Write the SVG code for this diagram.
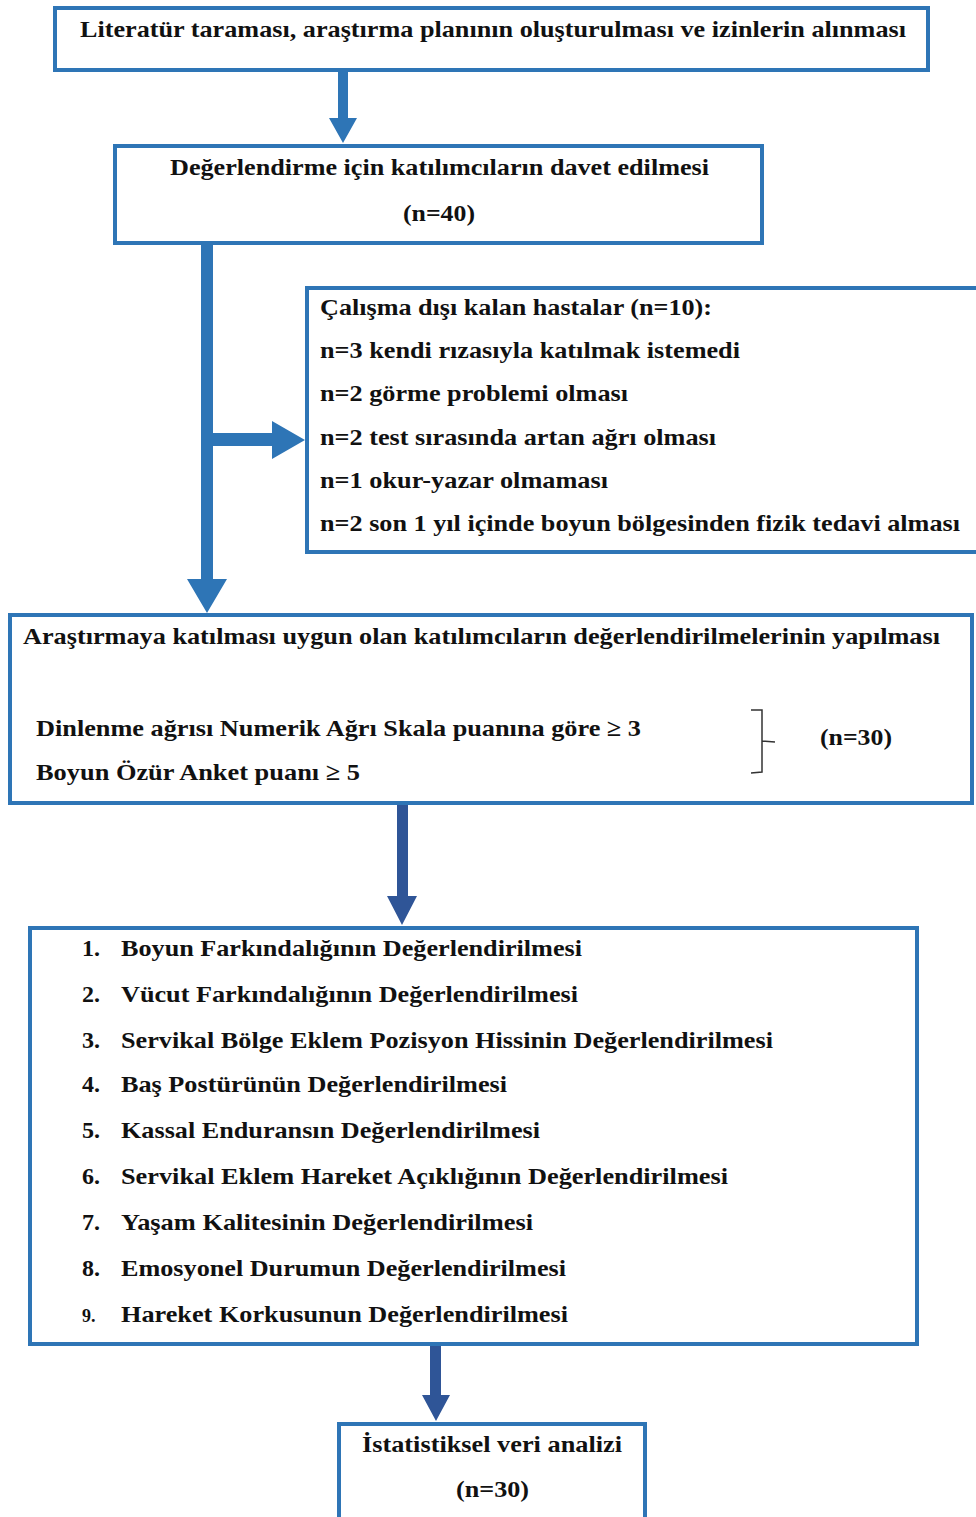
<svg xmlns="http://www.w3.org/2000/svg" width="976" height="1517" viewBox="0 0 976 1517">
<style>
.box{fill:#ffffff;stroke:#2E75B6;stroke-width:4}
.t{font-family:"Liberation Serif","Times New Roman",serif;font-weight:bold;font-size:24px;fill:#111}
.a1{fill:#2E75B6}
.a2{fill:#2F5597}
.brace{fill:none;stroke:#333;stroke-width:1.5}
</style>
<rect width="976" height="1517" fill="#ffffff"/>
<g id="connectors">
<polygon class="a1" points="338,70 348,70 348,118 357,118 343,143 329,118 338,118"/>
<polygon class="a1" points="201,243 213,243 213,579 227,579 207,613 187,579 201,579"/>
<polygon class="a1" points="213,433 272,433 272,421 305,440 272,459 272,446 213,446"/>
<polygon class="a2" points="397,803 408,803 408,896 417,896 402,925 387,896 397,896"/>
<polygon class="a2" points="430,1344 441,1344 441,1395 450,1395 436,1421 422,1395 430,1395"/>
</g>
<g id="node1">
<rect class="box" x="55" y="8" width="873" height="62"/>
<text class="t" x="80" y="37" textLength="826" lengthAdjust="spacingAndGlyphs">Literatür taraması, araştırma planının oluşturulması ve izinlerin alınması</text>
</g>
<g id="node2">
<rect class="box" x="115" y="146" width="647" height="97"/>
<text class="t" x="170" y="175" textLength="539" lengthAdjust="spacingAndGlyphs">Değerlendirme için katılımcıların davet edilmesi</text>
<text class="t" x="403" y="221" textLength="72" lengthAdjust="spacingAndGlyphs">(n=40)</text>
</g>
<g id="node3">
<rect class="box" x="307" y="288" width="680" height="264"/>
<text class="t" x="320" y="315" textLength="392" lengthAdjust="spacingAndGlyphs">Çalışma dışı kalan hastalar (n=10):</text>
<text class="t" x="320" y="358" textLength="420" lengthAdjust="spacingAndGlyphs">n=3 kendi rızasıyla katılmak istemedi</text>
<text class="t" x="320" y="401" textLength="308" lengthAdjust="spacingAndGlyphs">n=2 görme problemi olması</text>
<text class="t" x="320" y="445" textLength="396" lengthAdjust="spacingAndGlyphs">n=2 test sırasında artan ağrı olması</text>
<text class="t" x="320" y="488" textLength="288" lengthAdjust="spacingAndGlyphs">n=1 okur-yazar olmaması</text>
<text class="t" x="320" y="531" textLength="640" lengthAdjust="spacingAndGlyphs">n=2 son 1 yıl içinde boyun bölgesinden fizik tedavi alması</text>
</g>
<g id="node4">
<rect class="box" x="10" y="615" width="962" height="188"/>
<text class="t" x="23" y="644" textLength="917" lengthAdjust="spacingAndGlyphs">Araştırmaya katılması uygun olan katılımcıların değerlendirilmelerinin yapılması</text>
<text class="t" x="36" y="736" textLength="605" lengthAdjust="spacingAndGlyphs">Dinlenme ağrısı Numerik Ağrı Skala puanına göre ≥ 3</text>
<text class="t" x="36" y="780" textLength="324" lengthAdjust="spacingAndGlyphs">Boyun Özür Anket puanı ≥ 5</text>
<path class="brace" d="M751,710 L762,710 L762,741 L775,742 M762,741 L762,772 L751,773"/>
<text class="t" x="820" y="745" textLength="72" lengthAdjust="spacingAndGlyphs">(n=30)</text>
</g>
<g id="node5">
<rect class="box" x="30" y="928" width="887" height="416"/>
<text class="t" x="82" y="956">1.</text>
<text class="t" x="121" y="956" textLength="461" lengthAdjust="spacingAndGlyphs">Boyun Farkındalığının Değerlendirilmesi</text>
<text class="t" x="82" y="1002">2.</text>
<text class="t" x="121" y="1002" textLength="457" lengthAdjust="spacingAndGlyphs">Vücut Farkındalığının Değerlendirilmesi</text>
<text class="t" x="82" y="1048">3.</text>
<text class="t" x="121" y="1048" textLength="652" lengthAdjust="spacingAndGlyphs">Servikal Bölge Eklem Pozisyon Hissinin Değerlendirilmesi</text>
<text class="t" x="82" y="1092">4.</text>
<text class="t" x="121" y="1092" textLength="386" lengthAdjust="spacingAndGlyphs">Baş Postürünün Değerlendirilmesi</text>
<text class="t" x="82" y="1138">5.</text>
<text class="t" x="121" y="1138" textLength="419" lengthAdjust="spacingAndGlyphs">Kassal Enduransın Değerlendirilmesi</text>
<text class="t" x="82" y="1184">6.</text>
<text class="t" x="121" y="1184" textLength="607" lengthAdjust="spacingAndGlyphs">Servikal Eklem Hareket Açıklığının Değerlendirilmesi</text>
<text class="t" x="82" y="1230">7.</text>
<text class="t" x="121" y="1230" textLength="412" lengthAdjust="spacingAndGlyphs">Yaşam Kalitesinin Değerlendirilmesi</text>
<text class="t" x="82" y="1276">8.</text>
<text class="t" x="121" y="1276" textLength="445" lengthAdjust="spacingAndGlyphs">Emosyonel Durumun Değerlendirilmesi</text>
<text class="t" x="82" y="1322" style="font-size:18px">9.</text>
<text class="t" x="121" y="1322" textLength="447" lengthAdjust="spacingAndGlyphs">Hareket Korkusunun Değerlendirilmesi</text>
</g>
<g id="node6">
<rect class="box" x="339" y="1424" width="306" height="110"/>
<text class="t" x="362" y="1452" textLength="260" lengthAdjust="spacingAndGlyphs">İstatistiksel veri analizi</text>
<text class="t" x="456" y="1497" textLength="73" lengthAdjust="spacingAndGlyphs">(n=30)</text>
</g>
</svg>
